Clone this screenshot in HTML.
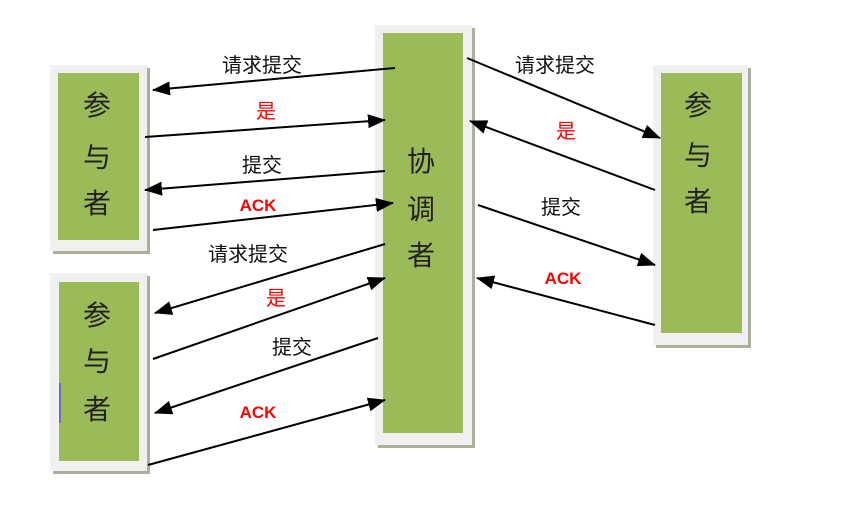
<!DOCTYPE html>
<html><head><meta charset="utf-8"><style>
html,body{margin:0;padding:0;background:#fff;width:855px;height:510px;overflow:hidden}
svg{display:block}
text{font-family:"Liberation Sans","Noto Sans CJK SC",sans-serif}
</style></head><body>
<svg width="855" height="510" viewBox="0 0 855 510" xmlns="http://www.w3.org/2000/svg">
<defs>
<marker id="h" viewBox="0 0 18 14" refX="17" refY="7" markerWidth="18" markerHeight="14" markerUnits="userSpaceOnUse" orient="auto"><path d="M0,0 L18,7 L0,14 z" fill="#000"/></marker>
</defs>
<g>
<rect x="53" y="68" width="97" height="186" fill="#a9b19a"/>
<rect x="50" y="65" width="97" height="186" fill="#f0f0f0"/>
<rect x="58" y="73" width="81" height="167" fill="#9bbb59"/>

<rect x="53" y="276" width="97" height="198" fill="#a9b19a"/>
<rect x="50" y="273" width="97" height="198" fill="#f0f0f0"/>
<rect x="59" y="282" width="80" height="179" fill="#9bbb59"/>
<rect x="59" y="383" width="2" height="40" fill="#7070b0"/>

<rect x="378" y="28" width="97" height="420" fill="#a9b19a"/>
<rect x="375" y="25" width="97" height="420" fill="#f0f0f0"/>
<rect x="383" y="33" width="80" height="400" fill="#9bbb59"/>

<rect x="656" y="68" width="95" height="280" fill="#a9b19a"/>
<rect x="653" y="65" width="95" height="280" fill="#f0f0f0"/>
<rect x="661" y="73" width="81" height="260" fill="#9bbb59"/>
</g>
<g font-size="28" fill="#222" text-anchor="middle">
<text x="97" y="115">参</text><text x="97" y="167">与</text><text x="97" y="213">者</text>
<text x="97" y="325">参</text><text x="97" y="371">与</text><text x="97" y="419">者</text>
<text x="421" y="171">协</text><text x="421" y="219">调</text><text x="421" y="265">者</text>
<text x="698" y="115">参</text><text x="698" y="165">与</text><text x="698" y="211">者</text>
</g>
<g stroke="#000" stroke-width="2" marker-end="url(#h)">
<line x1="395" y1="68" x2="153" y2="90"/>
<line x1="145" y1="137" x2="385" y2="120"/>
<line x1="385" y1="171" x2="145" y2="190"/>
<line x1="153" y1="230" x2="393" y2="203"/>
<line x1="385" y1="244" x2="155" y2="313"/>
<line x1="153" y1="359" x2="385" y2="278"/>
<line x1="378" y1="338" x2="155" y2="413"/>
<line x1="148" y1="465" x2="385" y2="400"/>
<line x1="467" y1="58" x2="660" y2="138"/>
<line x1="655" y1="190" x2="470" y2="121"/>
<line x1="478" y1="205" x2="655" y2="265"/>
<line x1="655" y1="325" x2="477" y2="278"/>
</g>
<g font-size="20" text-anchor="middle" fill="#111">
<text x="262" y="72">请求提交</text>
<text x="262" y="172">提交</text>
<text x="248" y="261">请求提交</text>
<text x="292" y="354">提交</text>
<text x="555" y="72">请求提交</text>
<text x="561" y="214">提交</text>
</g>
<g font-size="20" text-anchor="middle" fill="#ff0000">
<text x="266" y="118">是</text>
<text x="276" y="305">是</text>
<text x="566" y="138">是</text>
</g>
<g font-size="17" font-weight="bold" text-anchor="middle" fill="#ff0000">
<text x="258" y="211">ACK</text>
<text x="258" y="418">ACK</text>
<text x="563" y="284">ACK</text>
</g>
</svg>
</body></html>
